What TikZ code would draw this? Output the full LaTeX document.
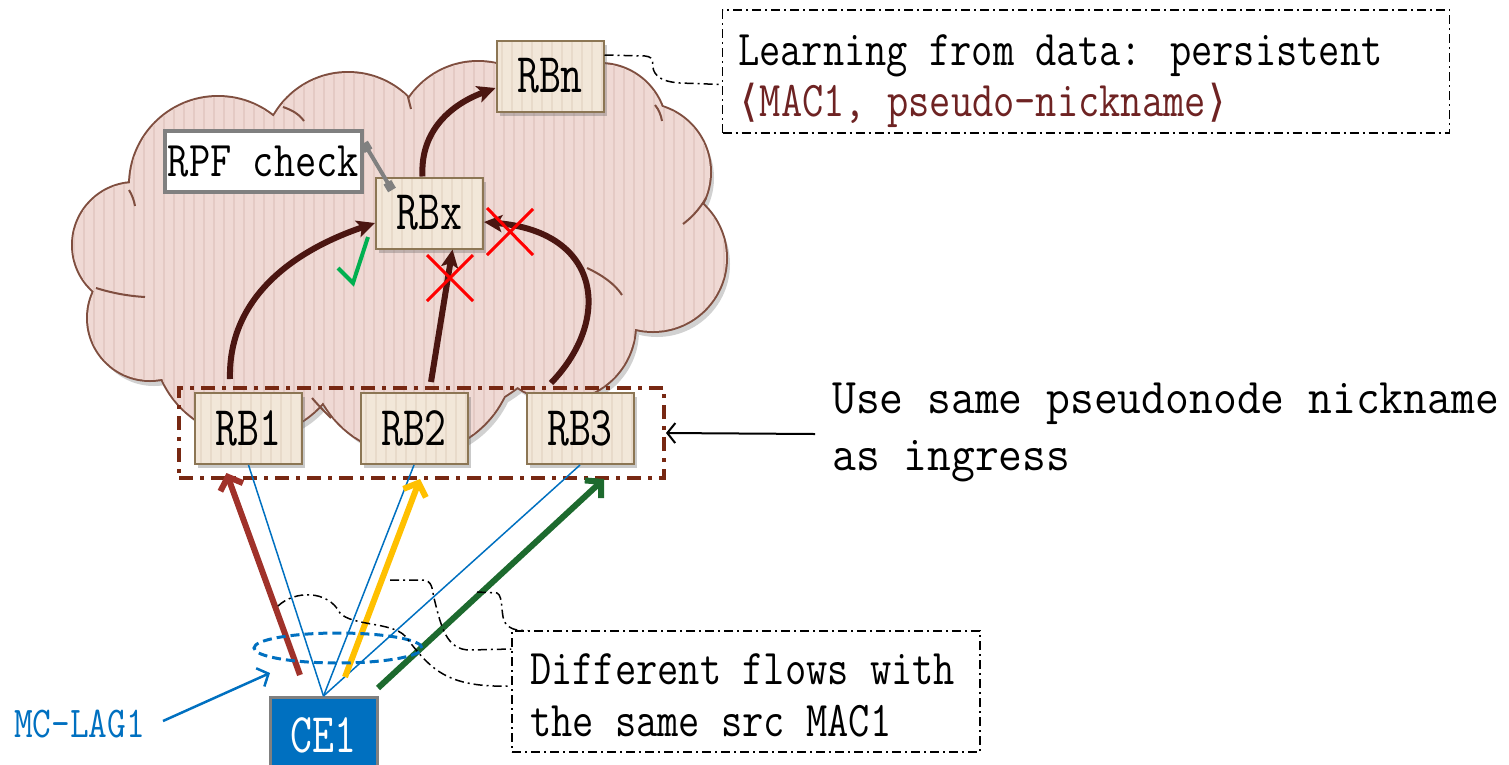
\documentclass[tikz,border=0pt]{standalone}
\usepackage{fontspec}
\newfontfamily\monoA[FakeStretch=0.825]{Latin Modern Mono}
\newfontfamily\monoB[FakeStretch=0.925]{Latin Modern Mono}
\newfontfamily\monoR[FakeStretch=0.76]{Latin Modern Mono}
\newfontfamily\symfnt{DejaVu Sans}
\usetikzlibrary{arrows.meta,shadows,calc,shapes.geometric}
\definecolor{cloudfill}{HTML}{EFD9D4}
\definecolor{cloudstripe}{HTML}{E4CAC4}
\definecolor{cloudline}{HTML}{7F4E3F}
\definecolor{rbfill}{HTML}{F2E7D9}
\definecolor{rbstripe}{HTML}{E8DACA}
\definecolor{rbline}{HTML}{8C7654}
\definecolor{darkarr}{HTML}{4B1611}
\definecolor{grpline}{HTML}{772812}
\definecolor{flowred}{HTML}{A0322A}
\definecolor{flowyel}{HTML}{FFC000}
\definecolor{flowgrn}{HTML}{1D6A2E}
\definecolor{lagblue}{HTML}{0070C0}
\definecolor{macred}{HTML}{6E2323}
\definecolor{rpfgrey}{HTML}{808080}
\definecolor{chkgreen}{HTML}{00B050}
\newcommand\fntN{\monoA\fontsize{50}{52}\selectfont}
\newcommand\fntR{\monoR\fontsize{56}{58}\selectfont}
\newcommand\fntB{\monoB\fontsize{50}{52}\selectfont}
\newcommand\fntS{\monoA\fontsize{44}{46}\selectfont}
\newcommand\angl[1]{\makebox[21.6pt][c]{\symfnt\fontsize{44}{44}\selectfont #1}}
\def\lobes{135/245/62, 150/318/62, 218/185/88, 348/158/85, 478/145/83, 600/130/66, 642/172/68, 653/258/73, 560/325/75, 412/352/102, 250/340/96, 420/260/160, 300/250/120, 540/240/110}
\begin{document}
\begin{tikzpicture}[x=1pt,y=-1pt,
  rb/.style={draw=rbline,line width=2pt,fill=rbfill,minimum width=107pt,minimum height=71pt,inner sep=0pt,font=\fntR,
    drop shadow={shadow xshift=3pt,shadow yshift=-4pt,opacity=0.35,fill=black!60},
    path picture={\foreach \i in {-48,-38,...,52}{\draw[rbstripe,line width=2pt] ([xshift=\i pt]path picture bounding box.north) -- ([xshift=\i pt]path picture bounding box.south);}}},
  darr/.style={draw=darkarr,line width=6pt,-{Stealth[length=18pt,width=17pt,inset=4pt]}},
  flow/.style={line width=6pt,-{Straight Barb[length=11pt,width=24pt]}},
  callout/.style={draw=black,line width=1.5pt,dash pattern=on 9pt off 4pt on 2pt off 4pt},
  bl/.style={draw=lagblue,line width=1.5pt},
  xmark/.style={draw=red,line width=3pt},
  inner/.style={draw=cloudline,line width=2pt}]
\useasboundingbox (0,0) rectangle (1509,764);
% cloud
\fill[black,opacity=0.18] foreach \x/\y/\r in \lobes {(\x+4,\y+6) circle (\r)};
\draw[cloudline,line width=4pt] foreach \x/\y/\r in \lobes {(\x,\y) circle (\r)};
\fill[cloudfill] foreach \x/\y/\r in \lobes {(\x,\y) circle (\r)};
\begin{scope}
\clip foreach \x/\y/\r in \lobes {(\x,\y) circle (\r)};
\foreach \i in {64,74,...,734} \draw[cloudstripe,line width=2pt] (\i,40) -- (\i,480);
\end{scope}
\draw[inner] (96,288) .. controls (112,293) and (128,296) .. (145,297);
\draw[inner] (129,190) .. controls (132,195) and (134,200) .. (135,206);
\draw[inner] (283,107) .. controls (292,110) and (299,114) .. (304,121);
\draw[inner] (408,97) .. controls (409,101) and (410,105) .. (411,109);
\draw[inner] (655,105) .. controls (659,110) and (661,115) .. (662,121);
\draw[inner] (706,198) .. controls (699,210) and (691,218) .. (683,224);
\draw[inner] (587,268) .. controls (602,275) and (615,284) .. (622,295);
\draw[inner] (312,398) .. controls (318,405) and (325,412) .. (331,418);
% group box
\node[draw=grpline,line width=4pt,dash pattern=on 14pt off 7pt on 4pt off 7pt,minimum width=485pt,minimum height=90pt,inner sep=0pt] (grp) at (421.5,433) {};
% nodes in cloud
\node[rb] (rbx) at (429.5,213) {RBx};
\node[rb] (rbn) at (550,76) {RBn};
\node[rb] (rb1) at (248.5,428.5) {RB1};
\node[rb] (rb2) at (414,428.5) {RB2};
\node[rb] (rb3) at (580,428.5) {RB3};
\node[draw=rpfgrey,line width=4pt,fill=white,minimum width=197pt,minimum height=61pt,inner sep=0pt,font=\fntN] (rpf) at (263.5,161.5) {RPF check};
% dark arrows
\coordinate (a1) at (230,379);
\coordinate (a2) at (431,382);
\coordinate (a3) at (551,383);
\draw[darr] (a1) .. controls (228,300) and (290,252) .. ($(rbx.west)+(0,10)$);
\draw[darr] (a2) -- ($(rbx.south)+(23,0)$);
\draw[darr] (a3) .. controls (612,320) and (602,232) .. ($(rbx.east)+(0,9)$);
\draw[darr] ($(rbx.north)+(-7,0)$) .. controls (420,130) and (452,104) .. ($(rbn.west)+(0,12)$);
% RPF connector
\coordinate (g1) at (364,143);
\coordinate (g2) at (392,190);
\draw[rpfgrey,line width=4pt,{Square[length=9pt,width=9pt]}-{Square[length=9pt,width=9pt]}] (g1) -- (g2);
% check and crosses
\coordinate (ck) at (353,283);
\draw[chkgreen,line width=4pt] (338,268) -- (ck) -- (368,237);
\coordinate (x1) at (450,278);
\coordinate (x2) at (510,232);
\draw[xmark] ($(x1)+(-23,-23)$) -- ($(x1)+(23,23)$) ($(x1)+(23,-23)$) -- ($(x1)+(-23,23)$);
\draw[xmark] ($(x2)+(-23,-24)$) -- ($(x2)+(23,23)$) ($(x2)+(23,-23)$) -- ($(x2)+(-23,23)$);
% CE1 and links
\node[draw=rpfgrey,line width=3pt,fill=lagblue,minimum width=107pt,minimum height=76pt,inner sep=0pt,anchor=north,text=white,font=\fntR] (ce1) at (323.5,696) {\raisebox{-2pt}{CE1}};
\draw[bl] (ce1.north) -- (rb1.south);
\draw[bl] (ce1.north) -- (rb2.south);
\draw[bl] (ce1.north) -- (rb3.south);
\coordinate (fr) at (300,675);
\coordinate (fy) at (345,677);
\coordinate (fg) at (378,688);
\draw[flow,flowred] (fr) -- ($(rb1.south)+(-22,8)$);
\draw[flow,flowyel] (fy) -- ($(rb2.south)+(6,14)$);
\draw[flow,flowgrn] (fg) -- ($(rb3.south)+(24,14)$);
\node[draw=lagblue,line width=3pt,dash pattern=on 9pt off 5pt,ellipse,minimum width=168pt,minimum height=30pt,inner sep=0pt] (lag) at (338,648) {};
\node[text=lagblue,font=\fntS,anchor=base west,inner sep=0pt] (mclag) at (14,737) {MC-LAG1};
\coordinate (mcs) at (163,721);
\draw[lagblue,line width=2.5pt,-{Straight Barb[length=9pt,width=20pt]}] (mcs) -- (270,673);
% callout top
\node[callout,minimum width=727pt,minimum height=123pt,inner sep=0pt] (ctop) at (1086,71.5) {};
\node[font=\fntN,anchor=base west,inner sep=0pt] (ct1) at (738,65) {Learning from data: persistent};
\node[font=\fntN,anchor=base west,inner sep=0pt,text=macred] (ct2) at (738,116) {\angl{⟨}MAC1, pseudo-nickname\angl{⟩}};
\draw[callout] ($(rbn.east)+(0,-21)$) -- (645,56) .. controls (657,57) and (650,66) .. (655,73) .. controls (660,80) and (668,82) .. (680,83) -- ($(ctop.west)+(0,13)$);
% side text
\node[font=\fntB,anchor=base west,inner sep=0pt] (us1) at (832,413) {Use same pseudonode nickname};
\node[font=\fntB,anchor=base west,inner sep=0pt] (us2) at (832,470) {as ingress};
\coordinate (uss) at (815,434);
\draw[black,line width=2pt,-{Straight Barb[length=8pt,width=20pt]}] (uss) -- (grp.east);
% callout bottom
\node[callout,minimum width=468pt,minimum height=121pt,inner sep=0pt] (cbot) at (746,691.5) {};
\node[font=\fntN,anchor=base west,inner sep=0pt] (cb1) at (530,684) {Different flows with};
\node[font=\fntN,anchor=base west,inner sep=0pt] (cb2) at (530,736) {the same src MAC1};
\coordinate (ta) at (278,606);
\coordinate (tb) at (390,580);
\coordinate (tc) at (477,592);
\draw[callout] (ta) .. controls (295,590) and (328,590) .. (340,613) .. controls (352,626) and (392,622) .. (405,636) .. controls (430,668) and (445,688) .. (cbot.west |- 0,686);
\draw[callout] (tb) -- (422,580) .. controls (433,580) and (432,590) .. (434,598) .. controls (441,626) and (446,650) .. (470,650) -- (cbot.west |- 0,649);
\draw[callout] (tc) -- (497,593) .. controls (504,596) and (500,618) .. (506,624) .. controls (511,630) and (520,631) .. ($(cbot.north west)+(16,0)$);
\end{tikzpicture}
\end{document}
